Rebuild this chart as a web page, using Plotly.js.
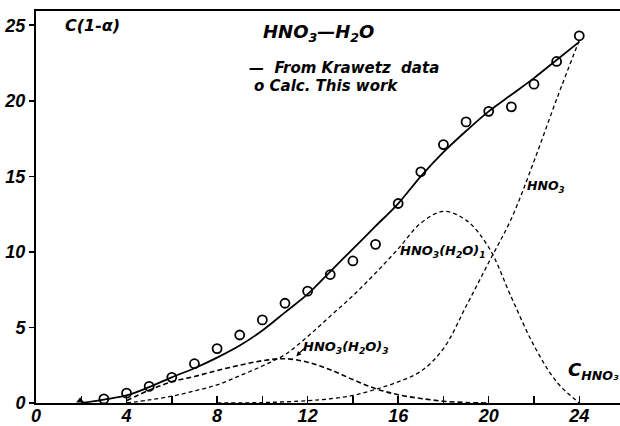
<!DOCTYPE html>
<html>
<head>
<meta charset="utf-8">
<script src="https://cdn.plot.ly/plotly-3.0.1.min.js"></script>
<style>html,body{margin:0;padding:0;background:#fff;}#chart{width:620px;height:426px;}</style>
</head>
<body>
<div id="chart"></div>
<script>
// Krawetz data (solid line)
const krawetzX = [2, 3, 4, 5, 6, 7, 8, 9, 10, 11, 12, 13, 14, 15, 16, 17, 18, 19, 20, 21, 22, 23, 24];
const krawetzY = [0, 0.23, 0.5, 1.05, 1.7, 2.3, 3.0, 3.8, 4.8, 6.0, 7.2, 8.7, 10.2, 11.7, 13.2, 15.0, 16.6, 18.0, 19.3, 20.4, 21.5, 22.7, 23.9];
// Calc. this work (circles)
const calcX = [3, 4, 5, 6, 7, 8, 9, 10, 11, 12, 13, 14, 15, 16, 17, 18, 19, 20, 21, 22, 23, 24];
const calcY = [0.27, 0.65, 1.1, 1.7, 2.6, 3.6, 4.5, 5.5, 6.6, 7.4, 8.5, 9.4, 10.5, 13.2, 15.3, 17.1, 18.6, 19.3, 19.6, 21.1, 22.6, 24.3];
// start marker
const startX = [1.95];
const startY = [0.15];
// HNO3(H2O)3
const tri3X = [4, 5, 6, 7, 8, 9, 10, 11, 12, 13, 14, 15, 16, 17, 18, 19, 20];
const tri3Y = [0.15, 0.85, 1.4, 1.75, 2.15, 2.5, 2.8, 2.93, 2.7, 2.2, 1.55, 0.95, 0.55, 0.3, 0.12, 0.03, 0];
// HNO3(H2O)1
const mono1X = [4, 5, 6, 7, 8, 9, 10, 11, 12, 13, 14, 15, 16, 17, 18, 19, 20, 21, 22, 23, 24];
const mono1Y = [0, 0.2, 0.45, 0.8, 1.2, 1.8, 2.45, 3.2, 4.4, 5.75, 7.1, 8.6, 10.2, 11.9, 12.68, 12.1, 10.3, 7.0, 3.8, 1.4, 0];
// HNO3
const hno3X = [8, 10, 12, 13, 14, 15, 16, 17, 18, 19, 20, 21, 22, 23, 24];
const hno3Y = [0, 0.03, 0.15, 0.28, 0.5, 0.9, 1.4, 2.1, 3.6, 6.4, 9.3, 12.2, 16.0, 20.1, 24.0];
// ticks
const xTickVals = [0, 4, 8, 12, 16, 20, 24];
const yTickVals = [0, 5, 10, 15, 20, 25];

const dashLine = {color: '#000', width: 1.3, dash: '4px,3px', shape: 'spline'};
const traces = [
  {x: tri3X, y: tri3Y, mode: 'lines', line: Object.assign({}, dashLine, {width: 1.6, dash: '5px,3px'}), hoverinfo: 'skip'},
  {x: mono1X, y: mono1Y, mode: 'lines', line: dashLine, hoverinfo: 'skip'},
  {x: hno3X, y: hno3Y, mode: 'lines', line: dashLine, hoverinfo: 'skip'},
  {x: krawetzX, y: krawetzY, mode: 'lines', line: {color: '#000', width: 1.8, shape: 'spline'}},
  {x: calcX, y: calcY, mode: 'markers', marker: {symbol: 'circle-open', size: 9, color: '#000', line: {width: 1.8, color: '#000'}}},
  {x: startX, y: startY, mode: 'markers', marker: {symbol: 'triangle-up', size: 7, color: '#000'}}
];

const tf = {family: 'Liberation Sans, Arial, sans-serif', color: '#000', style: 'italic', weight: 'bold'};
const af = {family: 'DejaVu Sans, sans-serif', color: '#000', style: 'italic', weight: 'bold'};
function tfont(size) { return Object.assign({}, tf, {size: size}); }
function font(size) { return Object.assign({}, af, {size: size}); }

const layout = {
  width: 620, height: 426,
  margin: {l: 36, r: 0, t: 11, b: 23},
  paper_bgcolor: '#fff', plot_bgcolor: '#fff',
  showlegend: false,
  xaxis: {
    range: [0, 25.8], showgrid: false, zeroline: false,
    showline: true, linecolor: '#000', linewidth: 2, mirror: true,
    tickmode: 'array', tickvals: xTickVals,
    ticks: 'inside', ticklen: 7, tickwidth: 1.5, tickcolor: '#000',
    ticklabelstandoff: -5,
    tickfont: tfont(18),
    minor: {tick0: 0, dtick: 2, ticks: 'inside', ticklen: 7, tickwidth: 1.5, tickcolor: '#000', showgrid: false}
  },
  yaxis: {
    range: [0, 25.94], showgrid: false, zeroline: false,
    showline: true, linecolor: '#000', linewidth: 2,
    tickmode: 'array', tickvals: yTickVals,
    ticks: 'outside', ticklen: 5, tickwidth: 1.5, tickcolor: '#000',
    tickfont: tfont(18)
  },
  annotations: [
    {x: 1.2, y: 25.0, xanchor: 'left', yanchor: 'middle', text: 'C(1-α)', showarrow: false, font: font(16)},
    {x: 9.95, y: 24.5, xanchor: 'left', yanchor: 'middle', text: 'HNO<sub>3</sub>—H<sub>2</sub>O', showarrow: false, font: font(18)},
    {x: 9.3, y: 22.2, xanchor: 'left', yanchor: 'middle', text: '—  From Krawetz  data', showarrow: false, font: font(15)},
    {x: 9.55, y: 20.95, xanchor: 'left', yanchor: 'middle', text: 'o Calc. This work', showarrow: false, font: font(15)},
    {x: 16.0, y: 10.0, xanchor: 'left', yanchor: 'middle', text: 'HNO<sub>3</sub>(H<sub>2</sub>O)<sub>1</sub>', showarrow: false, font: font(13)},
    {x: 11.7, y: 3.65, xanchor: 'left', yanchor: 'middle', text: 'HNO<sub>3</sub>(H<sub>2</sub>O)<sub>3</sub>', showarrow: false, font: font(13)},
    {x: 11.5, y: 3.1, ax: 9, ay: -9, text: '', showarrow: true, arrowhead: 2, arrowsize: 0.8, arrowwidth: 1.2, arrowcolor: '#000'},
    {x: 21.6, y: 14.3, xanchor: 'left', yanchor: 'middle', text: 'HNO<sub>3</sub>', showarrow: false, font: font(12.5)},
    {x: 23.4, y: 2.1, xanchor: 'left', yanchor: 'middle', text: 'C<sub>HNO₃</sub>', showarrow: false, font: font(18)}
  ]
};

Plotly.newPlot('chart', traces, layout, {displayModeBar: false, staticPlot: true});
</script>
</body>
</html>
